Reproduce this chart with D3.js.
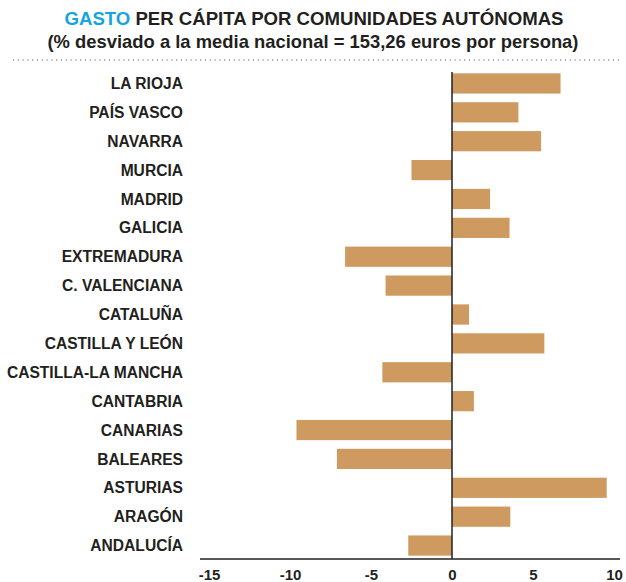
<!DOCTYPE html>
<html><head><meta charset="utf-8">
<script src="https://cdn.jsdelivr.net/npm/d3@7/dist/d3.min.js"></script>
<style>body{margin:0;background:#fff}svg{display:block}</style>
</head><body>
<svg id="c" width="626" height="582"></svg>
<script>
const categories = ["LA RIOJA","PAÍS VASCO","NAVARRA","MURCIA","MADRID","GALICIA","EXTREMADURA","C. VALENCIANA","CATALUÑA","CASTILLA Y LEÓN","CASTILLA-LA MANCHA","CANTABRIA","CANARIAS","BALEARES","ASTURIAS","ARAGÓN","ANDALUCÍA"];
const values = [6.7, 4.1, 5.5, -2.5, 2.35, 3.55, -6.6, -4.1, 1.05, 5.7, -4.3, 1.35, -9.6, -7.1, 9.55, 3.6, -2.7];
const ticks = [-15, -10, -5, 0, 5, 10];

const svg = d3.select("#c");
const font = "'Liberation Sans', Arial, Helvetica, sans-serif";
const ink = "#231f20";

const x = d3.scaleLinear().domain([-15, 10]).range([209, 614]);
const y = d3.scaleBand().domain(categories).range([69, 560]).paddingInner(0.3).paddingOuter(0.15);

// title
const t = svg.append("text").attr("x", 314).attr("y", 25).attr("text-anchor", "middle")
  .attr("font-family", font).attr("font-weight", "bold").attr("font-size", 18.6).attr("fill", ink);
t.append("tspan").attr("fill", "#14a3e3").text("GASTO");
t.append("tspan").text(" PER CÁPITA POR COMUNIDADES AUTÓNOMAS");
svg.append("text").attr("x", 313).attr("y", 48).attr("text-anchor", "middle")
  .attr("font-family", font).attr("font-weight", "bold").attr("font-size", 18.4).attr("fill", ink)
  .text("(% desviado a la media nacional = 153,26 euros por persona)");
svg.append("line").attr("x1", 13).attr("x2", 622).attr("y1", 60).attr("y2", 60)
  .attr("stroke", "#444").attr("stroke-width", 1).attr("stroke-dasharray", "1,3.8");

// bars
svg.append("g").selectAll("rect").data(values).join("rect")
  .attr("x", d => x(Math.min(0, d)))
  .attr("width", d => Math.abs(x(d) - x(0)))
  .attr("y", (d, i) => y(categories[i]))
  .attr("height", y.bandwidth())
  .attr("fill", "#cf9a60");

// labels
svg.append("g").selectAll("text").data(categories).join("text")
  .attr("x", 183).attr("y", d => y(d) + y.bandwidth() / 2)
  .attr("dy", "0.36em").attr("text-anchor", "end")
  .attr("font-family", font).attr("font-weight", "bold").attr("font-size", 15.6).attr("fill", ink)
  .text(d => d);

// zero line
svg.append("line").attr("x1", x(0)).attr("x2", x(0)).attr("y1", 72).attr("y2", 559)
  .attr("stroke", ink).attr("stroke-width", 1.5);

// x axis
const ax = svg.append("g").attr("transform", "translate(0,559)")
  .call(d3.axisBottom(x).tickValues(ticks).tickSize(0).tickPadding(10).tickFormat(d => String(d)));
ax.select(".domain").attr("d", "M200,0H620").attr("stroke", ink).attr("stroke-width", 1.5);
ax.selectAll("text").attr("font-family", font).attr("font-weight", "bold").attr("font-size", 15).attr("fill", ink);
</script>
</body></html>
